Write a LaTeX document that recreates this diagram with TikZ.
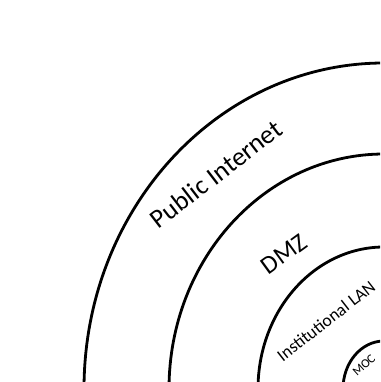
\documentclass[tikz,border=0pt]{standalone}
\usepackage{fontspec}
\setmainfont{Carlito}
\usepackage{tikz}

\tikzset{
  ring/.style={line width=2.8pt},
  zone/.style={inner sep=0pt}
}

\begin{document}
\begin{tikzpicture}[x=1pt,y=1pt]
          % Variables
          \def \cx {384}
          \def \cy {-7}

          % Frame
          \useasboundingbox (0,0) rectangle (380,382);
          \clip (0,0) rectangle (380,382);

          % Rings
          \draw[ring] (\cx,\cy) ellipse [x radius=300pt, y radius=326pt];
          \draw[ring] (\cx,\cy) ellipse [x radius=215pt, y radius=235pt];
          \draw[ring] (\cx,\cy) ellipse [x radius=126pt, y radius=142pt];
          \draw[ring] (\cx,\cy) ellipse [x radius=41pt,  y radius=48pt];

          % Zone labels
          \node[zone, rotate=37.5, font=\fontsize{26.5}{30}\selectfont] (internet) at (216,208) {Public Internet};
          \node[zone, rotate=36, font=\fontsize{25.5}{28}\selectfont] (dmz) at (284,128) {DMZ};
          \node[zone, rotate=38, font=\fontsize{17.6}{20}\selectfont] (lan) at (326,61) {Institutional LAN};
          \node[zone, rotate=42, anchor=base west, font=\fontsize{12.5}{14}\selectfont] (moc) at (357,5) {MOC};

        \end{tikzpicture}
\end{document}
